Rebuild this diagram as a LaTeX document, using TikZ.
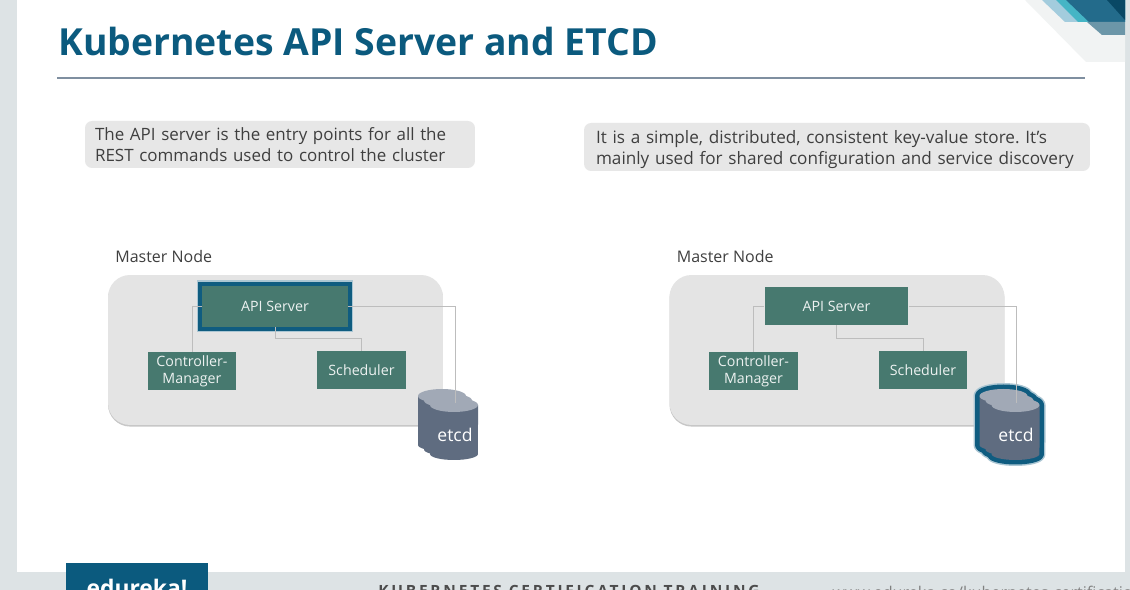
\documentclass[tikz,border=0pt]{standalone}
\usepackage{fontspec}
\setmainfont{Open Sans}
\usepackage{xcolor}
\usetikzlibrary{positioning}
\definecolor{panelgrey}{HTML}{E4E4E4}
\definecolor{noteGrey}{HTML}{E7E7E7}
\definecolor{boxteal}{HTML}{47796F}
\definecolor{glowblue}{HTML}{0F5C80}
\definecolor{linegrey}{HTML}{BDBDBD}
\definecolor{rulegrey}{HTML}{7F8FA0}
\definecolor{etcdbody}{HTML}{5F6C80}
\definecolor{etcdtop}{HTML}{A1A9B6}
\definecolor{footgrey}{HTML}{DDE3E5}
\definecolor{titleblue}{HTML}{0B5A7E}
\definecolor{textgrey}{HTML}{3F3F3F}
\tikzset{
	panel/.style={fill=panelgrey, rounded corners=0.44cm, minimum width=6.7cm, minimum height=3cm, preaction={fill=black!22, transform canvas={yshift=-0.9pt}}},
	note/.style={fill=noteGrey, rounded corners=0.14cm, align=left, font=\frenchspacing\fontsize{9.65pt}{12pt}\selectfont, text=textgrey, inner sep=0pt},
	teal box/.style={fill=boxteal, text=white, align=center, font=\fontsize{8.1pt}{9.7pt}\selectfont, text opacity=0.9},
	hot box/.style={preaction={draw=glowblue!35, line width=0.22cm, rounded corners=0.08cm}, preaction={draw=glowblue, line width=0.16cm, rounded corners=0.06cm}},
	caption/.style={font=\fontsize{9.1pt}{11pt}\selectfont, text=textgrey},
	wire/.style={draw=linegrey, line width=0.5pt},
	etcd side/.style={fill=etcdbody},
	etcd cap/.style={fill=etcdtop},
}
\newcommand{\etcdstack}[3]{% #1,#2 back cylinder top, #3 extra path options
	\foreach \i in {0,1,2} {
		\path[etcd side, #3] (#1+6*\i-24, #2+4.5*\i) -- (#1+6*\i-24, #2+4.5*\i+49) arc[start angle=180, end angle=360, x radius=0.48cm, y radius=0.12cm] -- (#1+6*\i+24, #2+4.5*\i) -- cycle;
		\path[etcd cap, #3] (#1+6*\i, #2+4.5*\i) ellipse[x radius=0.48cm, y radius=0.14cm];
	}
}
\begin{document}
\begin{tikzpicture}[x=0.02cm, y=-0.02cm]
	\clip (0,0) rectangle (1130,590);
	\fill[white] (0,0) rectangle (1130,590);
	% frame and footer
	\fill[footgrey] (0,0) rectangle (17,590);
	\fill[footgrey] (1125,0) rectangle (1130,590);
	\fill[footgrey] (0,572) rectangle (1130,590);
	% corner stripes
	\fill[blue!30!cyan!8!gray!10] (1025,0) -- (1086,62) -- (1125,62) -- (1125,0) -- cycle;
	\fill[cyan!50!gray!55] (1042,0) -- (1065,22) -- (1125,22) -- (1125,0) -- cycle;
	\fill[titleblue!60!cyan!75] (1056,0) -- (1078,22) -- (1125,22) -- (1125,0) -- cycle;
	\fill[titleblue!90] (1066,0) -- (1089,22) -- (1125,22) -- (1125,0) -- cycle;
	\fill[titleblue!80!black] (1107,0) -- (1125,20) -- (1125,0) -- cycle;
	\fill[cyan!50!black!75] (1087,22) -- (1102,35) -- (1125,35) -- (1125,22) -- cycle;
	% heading
	\node[anchor=west, font=\fontsize{21.25pt}{26pt}\bfseries\selectfont, text=titleblue, inner sep=0pt] (title) at (58,42) {Kubernetes API Server and ETCD};
	\coordinate (ruleL) at (57,78);
	\coordinate (ruleR) at (1085,78);
	\draw[draw=rulegrey, line width=0.7pt] (ruleL) -- (ruleR);
	% notes
	\node[note, minimum width=7.8cm, minimum height=0.94cm, text width=7.4cm] (noteL) at (280,144.5) {The API server is the entry points for all the\\REST commands used to control the cluster};
	\node[note, minimum width=10.12cm, minimum height=0.96cm, text width=9.64cm, font=\frenchspacing\fontsize{9.75pt}{12pt}\selectfont] (noteR) at (837,147) {\rule{0pt}{10.5pt}It is a simple, distributed, consistent key-value store. It’s\\mainly used for shared configuration and service discovery};
	% left master
	\node[caption, anchor=west, inner sep=0pt] (masterL) at (115,257) {Master Node};
	\node[panel] (panelL) at (275.5,350) {};
	\node[teal box, hot box, minimum width=2.92cm, minimum height=0.82cm] (apiL) at (275,306.5) {API Server};
	\node[teal box, minimum width=1.78cm, minimum height=0.76cm, inner sep=0pt] (ctrlL) at (192,371) {Controller-\\Manager};
	\node[teal box, minimum width=1.78cm, minimum height=0.76cm, inner sep=0pt] (schedL) at (361.5,370) {Scheduler};
	\etcdstack{442}{396}{}
	\node[text=white, font=\fontsize{10pt}{12pt}\selectfont, inner sep=0pt] (etcdL) at (455,435) {etcd};
	\coordinate (jogL) at (275,338);
	\coordinate (endL) at (455,403);
	\draw[wire] (apiL.west) -| (ctrlL.north);
	\draw[wire] (apiL.south) |- (jogL) -| (schedL.north);
	\draw[wire] (apiL.east) -| (endL);
	% right master
	\node[caption, anchor=west, inner sep=0pt] (masterR) at (676.5,257) {Master Node};
	\node[panel] (panelR) at (837,350) {};
	\node[teal box, minimum width=2.88cm, minimum height=0.76cm] (apiR) at (836.5,306) {API Server};
	\node[teal box, minimum width=1.78cm, minimum height=0.76cm, inner sep=0pt] (ctrlR) at (753.5,371) {Controller-\\Manager};
	\node[teal box, minimum width=1.78cm, minimum height=0.76cm, inner sep=0pt] (schedR) at (923,370) {Scheduler};
	\etcdstack{1003.5}{396}{draw=glowblue!35, line width=0.24cm, line join=round}
	\etcdstack{1003.5}{396}{draw=glowblue, line width=0.18cm, line join=round}
	\etcdstack{1003.5}{396}{}
	\node[text=white, font=\fontsize{10pt}{12pt}\selectfont, inner sep=0pt] (etcdR) at (1016,435) {etcd};
	\coordinate (jogR) at (836.5,338);
	\coordinate (endR) at (1016,403);
	\draw[wire] (apiR.west) -| (ctrlR.north);
	\draw[wire] (apiR.south) |- (jogR) -| (schedR.north);
	\draw[wire] (apiR.east) -| (endR);
	% footer
	\node[fill=titleblue, minimum width=2.84cm, minimum height=0.54cm, anchor=north west, inner sep=0pt] (logo) at (66,563) {};
	\node[text=white, font=\fontsize{13pt}{15pt}\bfseries\selectfont, inner sep=0pt, anchor=north] (brand) at (137,579) {edureka!};
	\node[text=black!70, font=\fontsize{8.8pt}{10pt}\bfseries\addfontfeatures{LetterSpace=18}\selectfont, anchor=north west, inner sep=0pt] (course) at (378,585) {KUBERNETES CERTIFICATION TRAINING};
	\node[text=black!50, font=\fontsize{9.2pt}{11pt}\selectfont, anchor=north west, inner sep=0pt] (site) at (832,586) {www.edureka.co/kubernetes-certification};
\end{tikzpicture}
\end{document}
